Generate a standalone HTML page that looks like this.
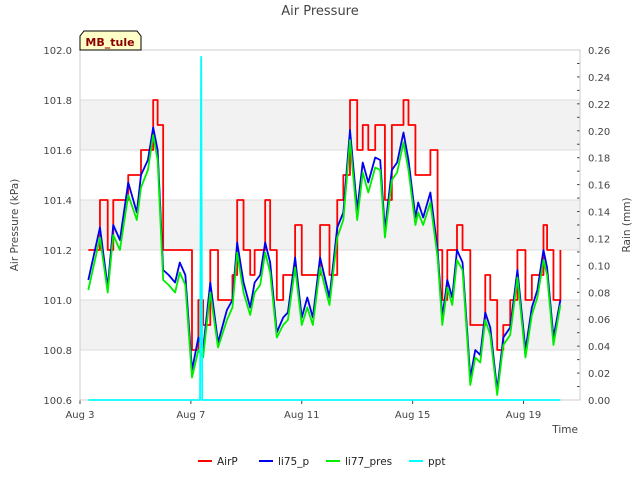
<!DOCTYPE html>
<html><head><meta charset="utf-8"><style>
body{margin:0;background:#fff;font-family:"Liberation Sans","DejaVu Sans",sans-serif}
</style></head><body>
<svg id="c" width="640" height="480" xmlns="http://www.w3.org/2000/svg" font-family="DejaVu Sans, Liberation Sans, sans-serif">
<text x="320" y="15" text-anchor="middle" font-size="13" fill="#444">Air Pressure</text>
<g id="plot"></g>
<text x="18" y="225" transform="rotate(-90 18 225)" text-anchor="middle" font-size="10.5" fill="#444">Air Pressure (kPa)</text>
<text x="630" y="225" transform="rotate(-90 630 225)" text-anchor="middle" font-size="10.5" fill="#444">Rain (mm)</text>
<text x="578" y="433" text-anchor="end" font-size="10.5" fill="#444">Time</text>
<g>
<path d="M80,50 L80,36 L84,31 L137,31 L141,36 L141,50 Z" fill="#ffffc8" stroke="#000" stroke-width="1"/>
<text x="110" y="46" text-anchor="middle" font-size="11" font-weight="bold" fill="#8b0000">MB_tule</text>
</g>
<g id="legend"></g>
</svg>
<script>
const days=[3.3,3.72,4.0,4.2,4.44,4.74,5.05,5.2,5.45,5.64,5.8,6.0,6.2,6.43,6.6,6.8,7.04,7.27,7.44,7.7,7.98,8.3,8.5,8.67,8.9,9.14,9.3,9.5,9.68,9.86,10.1,10.33,10.5,10.76,11.0,11.2,11.4,11.66,12.0,12.28,12.5,12.74,13.0,13.2,13.4,13.65,13.83,14.0,14.25,14.44,14.67,14.85,15.1,15.2,15.38,15.64,15.9,16.07,16.25,16.43,16.6,16.8,17.08,17.26,17.44,17.62,17.8,18.05,18.27,18.52,18.78,19.07,19.3,19.5,19.72,19.85,20.08,20.33];
const li75=[101.08,101.29,101.05,101.3,101.24,101.47,101.35,101.5,101.56,101.69,101.6,101.12,101.1,101.07,101.15,101.1,100.72,100.85,100.8,101.07,100.83,100.96,101.0,101.23,101.07,100.97,101.07,101.1,101.23,101.15,100.87,100.93,100.95,101.17,100.93,101.01,100.93,101.17,101.01,101.29,101.35,101.68,101.36,101.55,101.47,101.57,101.56,101.28,101.52,101.55,101.67,101.56,101.33,101.39,101.33,101.43,101.2,100.93,101.08,101.01,101.2,101.15,100.69,100.8,100.78,100.95,100.89,100.64,100.85,100.89,101.12,100.8,100.97,101.04,101.2,101.13,100.85,101.0];
const li77=[101.04,101.25,101.03,101.26,101.2,101.42,101.32,101.45,101.52,101.66,101.56,101.08,101.06,101.03,101.11,101.06,100.69,100.8,100.77,101.03,100.81,100.92,100.97,101.19,101.03,100.94,101.03,101.06,101.19,101.11,100.85,100.9,100.92,101.13,100.9,100.97,100.9,101.13,100.98,101.25,101.32,101.64,101.32,101.51,101.43,101.53,101.52,101.25,101.48,101.51,101.63,101.52,101.3,101.35,101.3,101.39,101.17,100.9,101.05,100.98,101.16,101.12,100.66,100.77,100.75,100.92,100.86,100.62,100.82,100.86,101.09,100.77,100.94,101.01,101.16,101.1,100.82,100.98];
const airp=[101.2,101.4,101.2,101.4,101.4,101.5,101.5,101.6,101.6,101.8,101.7,101.2,101.2,101.2,101.2,101.2,100.8,101.0,100.9,101.2,101.0,101.0,101.1,101.4,101.2,101.1,101.2,101.2,101.4,101.2,101.0,101.1,101.1,101.3,101.1,101.1,101.1,101.3,101.1,101.4,101.5,101.8,101.6,101.7,101.6,101.7,101.7,101.4,101.7,101.7,101.8,101.7,101.5,101.5,101.5,101.6,101.2,101.0,101.2,101.2,101.3,101.2,100.9,100.9,100.9,101.1,101.0,100.8,100.9,101.0,101.2,101.0,101.1,101.1,101.3,101.2,101.0,101.2];
const pptDays=[3.3,7.3,7.33,7.37,7.41,7.44,20.33];
const pptVals=[0,0,0,0.255,0,0,0];
const yTicks=[100.6,100.8,101.0,101.2,101.4,101.6,101.8,102.0];
const y2Ticks=[0,0.02,0.04,0.06,0.08,0.1,0.12,0.14,0.16,0.18,0.2,0.22,0.24,0.26];
const xTickDays=[3,7,11,15,19];
const xTickLabels=["Aug 3","Aug 7","Aug 11","Aug 15","Aug 19"];
const L=80,R=580,T=50,B=400,NS="http://www.w3.org/2000/svg";
const xs=d=>L+(d-3)*27.72;
const ys=p=>B-(p-100.6)/1.4*(B-T);
const y2=v=>B-v/0.26*(B-T);
const plot=document.getElementById('plot');
function mk(t,a,p){const e=document.createElementNS(NS,t);for(const k in a)e.setAttribute(k,a[k]);(p||plot).appendChild(e);return e;}
for(let i=0;i<yTicks.length-1;i++){if(i%2==1){const b=mk('rect',{x:L,y:ys(yTicks[i+1]),width:R-L,height:ys(yTicks[i])-ys(yTicks[i+1]),fill:'#f2f2f2'});

}}
yTicks.forEach(v=>{mk('line',{x1:L,x2:R,y1:ys(v),y2:ys(v),stroke:'#dcdcdc'});
const t=mk('text',{x:L-8,y:ys(v)+4,'text-anchor':'end','font-size':10,fill:'#444'});t.textContent=v.toFixed(1);

});
y2Ticks.forEach(v=>{mk('line',{x1:R-3,x2:R,y1:y2(v),y2:y2(v),stroke:'#444'});
const t=mk('text',{x:R+8,y:y2(v)+4,'font-size':10,fill:'#444'});t.textContent=v.toFixed(2);

});
for(let i=0;i<y2Ticks.length-1;i++){const m=(y2Ticks[i]+y2Ticks[i+1])/2;mk('line',{x1:R-3,x2:R,y1:y2(m),y2:y2(m),stroke:'#444'});}
xTickDays.forEach((d,i)=>{mk('line',{x1:xs(d),x2:xs(d),y1:B,y2:B+4,stroke:'#444'});
const t=mk('text',{x:xs(d),y:B+18,'text-anchor':'middle','font-size':10,fill:'#444'});t.textContent=xTickLabels[i];

});
mk('rect',{x:L,y:T,width:R-L,height:B-T,fill:'none',stroke:'#ccc'});
function line(xv,yv,f,col,name,step){const n=Math.min(xv.length,yv.length);let d='';
for(let i=0;i<n;i++){const x=xs(xv[i]),y=f(yv[i]);
if(i==0)d='M'+x+','+y;else if(step)d+=' H'+x+' V'+y;else d+=' L'+x+','+y;}
const p=mk('path',{d:d,fill:'none',stroke:col,'stroke-width':1.8,'stroke-linejoin':'round'});

}
line(days,airp,ys,'#ff0000','airp-line',true);
line(days,li75,ys,'#0000ee','li75-line',false);
line(days,li77,ys,'#00ee00','li77-line',false);
line(pptDays,pptVals,y2,'#00ffff','ppt-line',false);
const leg=document.getElementById('legend');
const items=[['AirP','#ff0000',198],['li75_p','#0000ee',259],['li77_pres','#00ee00',326],['ppt','#00ffff',409]];
items.forEach(it=>{const g=mk('g',{},leg);


mk('line',{x1:it[2],x2:it[2]+14,y1:461,y2:461,stroke:it[1],'stroke-width':2},g);
const t=mk('text',{x:it[2]+19,y:465,'font-size':10.5,fill:'#222'},g);t.textContent=it[0];});
</script>
</body></html>
